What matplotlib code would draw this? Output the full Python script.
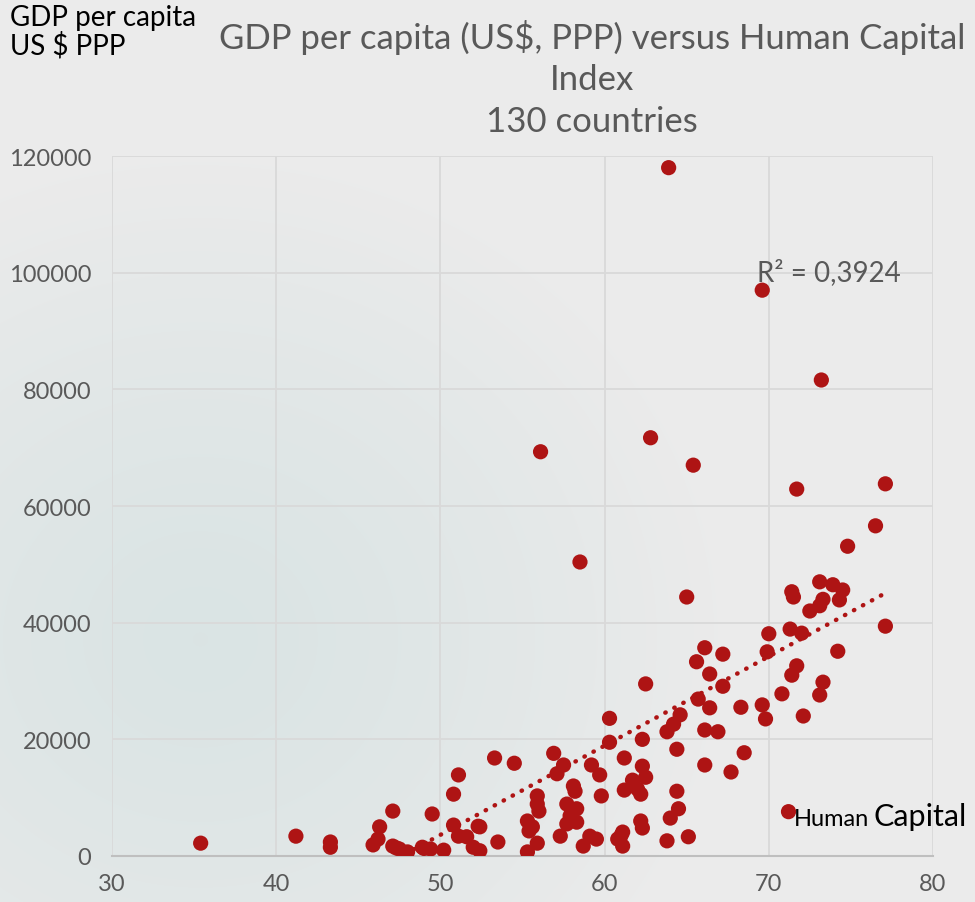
import numpy as np
import matplotlib
matplotlib.use("Agg")
import matplotlib.pyplot as plt

# human capital index (x) and GDP per capita, US$ PPP (y)
hci = [63.9, 69.6, 73.2, 56.1, 62.8, 65.4, 71.7, 77.1, 76.5, 74.8,
       58.5, 65.0, 73.1, 73.9, 74.5, 71.4, 71.5, 73.3, 74.3, 73.1,
       72.5, 77.1, 71.3, 72.0, 70.0, 69.9, 74.2, 66.1, 67.2, 65.6,
       66.4, 71.7, 71.4, 73.3, 73.1, 67.2, 70.8, 62.5, 65.7, 64.6,
       64.2, 63.8, 66.4, 68.3, 69.6, 69.8, 72.1, 66.1, 66.9, 62.3,
       64.4, 68.5, 61.2, 62.3, 66.1, 67.7, 62.5, 61.7, 61.2, 62.2,
       64.4, 64.5, 64.0, 62.2, 62.3, 61.1, 63.8, 65.1, 61.1, 60.3,
       60.3, 53.3, 54.5, 56.9, 57.5, 57.1, 59.2, 59.7, 58.1, 58.2,
       59.8, 55.9, 55.9, 56.0, 55.3, 55.4, 55.9, 55.3, 53.5, 52.4,
       52.4, 57.7, 58.3, 57.9, 58.3, 57.7, 57.3, 59.1, 59.5, 58.7,
       60.8, 51.1, 50.8, 47.1, 49.5, 46.3, 50.8, 52.3, 45.9, 47.1,
       47.5, 48.0, 48.9, 49.4, 50.2, 51.1, 51.6, 52.0, 35.4, 41.2,
       43.3, 43.3, 46.2, 71.2, 47.3, 55.6, 58.0, 62.0, 49.0, 61.0]
gdp = [118000, 97000, 81600, 69300, 71700, 67000, 62900, 63800, 56600, 53100,
       50400, 44400, 47000, 46500, 45600, 45300, 44400, 44000, 43900, 42900,
       42000, 39400, 38900, 38200, 38100, 35000, 35100, 35700, 34600, 33300,
       31200, 32600, 31000, 29800, 27600, 29100, 27800, 29500, 26900, 24200,
       22600, 21300, 25400, 25500, 25900, 23500, 24000, 21600, 21300, 20000,
       18300, 17700, 16800, 15400, 15600, 14400, 13500, 13000, 11300, 10600,
       11100, 8100, 6500, 6000, 4800, 4100, 2600, 3300, 1700, 23600,
       19500, 16800, 15900, 17600, 15600, 14100, 15600, 13900, 12000, 11100,
       10300, 10300, 8900, 7700, 6000, 4300, 2200, 700, 2400, 5000,
       900, 8900, 8100, 6900, 5800, 5500, 3400, 3400, 2900, 1700,
       2900, 13900, 10600, 7700, 7200, 5000, 5300, 5100, 1900, 1700,
       1200, 700, 1500, 1200, 1000, 3400, 3300, 1500, 2200, 3400,
       2400, 1500, 2900, 7600, 1400, 5000, 7500, 11500, 1300, 3500]

x_ticks = [30, 40, 50, 60, 70, 80]
y_ticks = [0, 20000, 40000, 60000, 80000, 100000, 120000]

title = "GDP per capita (US$, PPP) versus Human Capital\nIndex\n130 countries"
r2_label = "R² = 0,3924"

red = "#AE1414"
grey_text = "#595959"
font = ["Lato", "DejaVu Sans"]
plt.rcParams["font.family"] = font

fig = plt.figure(figsize=(9.75, 9.03), dpi=100)

# soft radial background like the original slide
bg = fig.add_axes([0, 0, 1, 1], zorder=-5)
gy, gx = np.mgrid[0:903, 0:975]
dist = np.sqrt(((gx - 200) / 520.0) ** 2 + ((gy - 640) / 480.0) ** 2)
t = np.clip(dist, 0, 1) ** 1.3
inner = np.array([0.855, 0.894, 0.894])
outer = np.array([0.922, 0.922, 0.922])
img = inner[None, None, :] * (1 - t[..., None]) + outer[None, None, :] * t[..., None]
bg.imshow(img, aspect="auto", extent=[0, 1, 0, 1], origin="upper")
bg.axis("off")

ax = fig.add_axes([112 / 975, 46 / 903, 821 / 975, 700 / 903])
ax.patch.set_alpha(0)

ax.scatter(hci, gdp, s=120, color=red, edgecolors="none", zorder=3)

coef = np.polyfit(hci, gdp, 1)
xs = np.array([min(hci), max(hci)])
ax.plot(xs, np.polyval(coef, xs), linestyle=(0, (0.1, 2.2)), dash_capstyle="round",
        color=red, linewidth=3.2, zorder=2)

ax.set_xlim(30, 80)
ax.set_ylim(0, 120000)
ax.set_xticks(x_ticks)
ax.set_yticks(y_ticks)
ax.grid(True, color="#d9d9d9", linewidth=1.3)
ax.set_axisbelow(True)
for side in ["top", "left", "right"]:
    ax.spines[side].set_visible(False)
ax.spines["bottom"].set_color("#bfbfbf")
ax.spines["bottom"].set_linewidth(1.5)
ax.tick_params(axis="y", length=0, labelsize=17, colors=grey_text, pad=15)
ax.tick_params(axis="x", length=0, labelsize=17, colors=grey_text, pad=12)

fig.text(0.607, 0.978, title, ha="center", va="top", fontsize=25,
         color=grey_text, linespacing=1.36)
fig.text(0.010, 0.995, "GDP per capita\nUS $ PPP", ha="left", va="top",
         fontsize=20, color="black", linespacing=1.08)
ax.text(69.28, 97800, r2_label, fontsize=20, color=grey_text, ha="left", va="bottom")
ax.text(71.5, 5300, "Human", fontsize=17, color="black", ha="left", va="baseline")
ax.text(76.4, 5300, "Capital", fontsize=22, color="black", ha="left", va="baseline")

fig.savefig("out.png", dpi=100)
